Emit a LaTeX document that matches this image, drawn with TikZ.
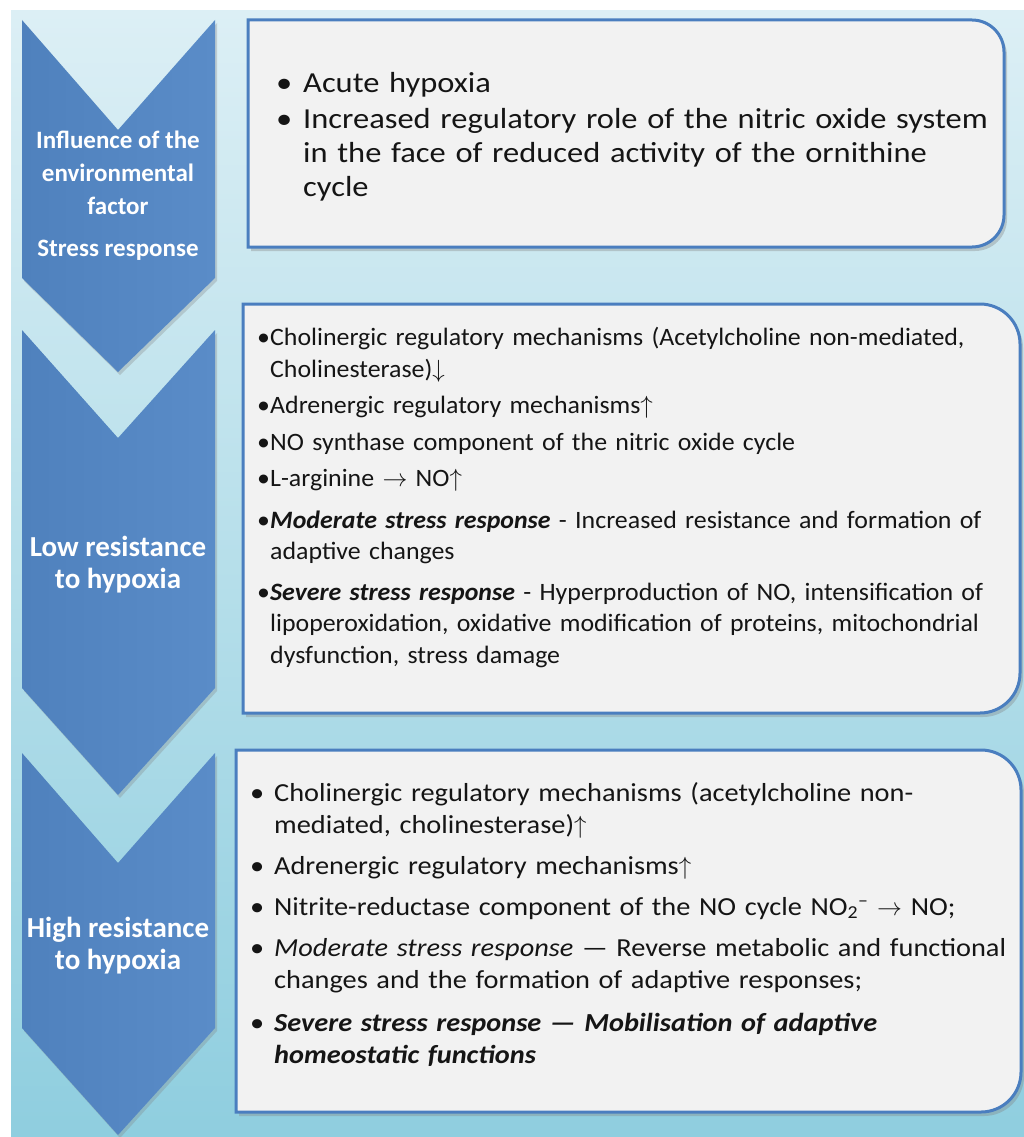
\documentclass[tikz,border=0pt]{standalone}
\usepackage{fontspec}
\setmainfont{Carlito}
\newfontfamily\fonta[FakeStretch=1.12]{Carlito}
\newfontfamily\fontb[FakeStretch=1.035]{Carlito}
\newfontfamily\fontc[FakeStretch=1.09]{Carlito}
\usetikzlibrary{shadows}
\definecolor{bgtop}{HTML}{DCEFF5}
\definecolor{bgbot}{HTML}{8FCEDF}
\definecolor{chev}{HTML}{4F81BD}
\definecolor{chevhi}{HTML}{5A8CC8}
\definecolor{boxline}{HTML}{4A7EBF}
\definecolor{boxfill}{HTML}{F2F2F2}
\definecolor{ink}{HTML}{151515}
\newcommand{\bul}[2]{\par\noindent\hangindent=#1\hangafter=1\makebox[#1][l]{•}#2}
\tikzset{
  chevron/.style={left color=chev, right color=chevhi, drop shadow={shadow xshift=2pt, shadow yshift=-3pt, opacity=0.3}},
  panel/.style={draw=boxline, line width=3pt, fill=boxfill, drop shadow={shadow xshift=3pt, shadow yshift=-4pt, opacity=0.35}},
  chevtext/.style={text=white, align=center, inner sep=0pt},
  bodytext/.style={anchor=north west, inner sep=0pt, text width=780pt, text=ink}
}
\begin{document}
\begin{tikzpicture}[x=1pt,y=-1pt]
\useasboundingbox (0,0) rectangle (1024,1137);
\fill[white] (0,0) rectangle (1024,1137);
\shade[top color=bgtop, bottom color=bgbot] (11,11) rectangle (1024,1137);

% chevrons
\path[chevron] (22,20) -- (118,130) -- (215,20) -- (215,278) -- (118,372) -- (22,278) -- cycle;
\path[chevron] (22,330) -- (118,438) -- (215,330) -- (215,688) -- (118,795) -- (22,688) -- cycle;
\path[chevron] (22,753) -- (118,863) -- (215,753) -- (215,1028) -- (118,1135) -- (22,1028) -- cycle;

\node[chevtext, font=\bfseries\fontsize{25}{33}\selectfont] (c1) at (118,196) {Influence of the\\environmental\\factor\\[9pt]Stress response};
\node[chevtext, font=\bfseries\fontsize{29}{32}\selectfont] (c2) at (118,565) {Low resistance\\to hypoxia};
\node[chevtext, font=\bfseries\fontsize{29}{32}\selectfont] (c3) at (118,946) {High resistance\\to hypoxia};

% panels
\draw[panel] (248,20) -- (972,20) arc[start angle=-90, end angle=0, radius=32] -- (1004,215) arc[start angle=0, end angle=90, radius=32] -- (248,247) -- cycle;
\draw[panel] (243,304) -- (980,304) arc[start angle=-90, end angle=0, radius=40] -- (1020,673) arc[start angle=0, end angle=90, radius=40] -- (243,713) -- cycle;
\draw[panel] (236,750) -- (981,750) arc[start angle=-90, end angle=0, radius=40] -- (1021,1072) arc[start angle=0, end angle=90, radius=40] -- (236,1112) -- cycle;

\node[bodytext, font=\fonta\fontsize{29}{34}\selectfont] (t1) at (276,56) {%
\setlength{\parskip}{2pt}%
\bul{27pt}{Acute hypoxia}
\bul{27pt}{Increased regulatory role of the nitric oxide system\newline in the face of reduced activity of the ornithine\newline cycle}\par};

\node[bodytext, font=\fontb\fontsize{25}{31.5}\selectfont] (t2) at (257,309) {%
\setlength{\parskip}{5pt}%
\bul{13pt}{Cholinergic regulatory mechanisms (Acetylcholine non-mediated,\newline Cholinesterase)$\downarrow$}
\bul{13pt}{Adrenergic regulatory mechanisms$\uparrow$}
\bul{13pt}{NO synthase component of the nitric oxide cycle}
\bul{13pt}{L-arginine $\rightarrow$ NO$\uparrow$}
\par\vspace{5pt}%
\bul{13pt}{\textbf{\textit{Moderate stress response}} - Increased resistance and formation of\newline adaptive changes}
\par\vspace{4pt}%
\bul{13pt}{\textbf{\textit{Severe stress response}} - Hyperproduction of NO, intensification of\newline lipoperoxidation, oxidative modification of proteins, mitochondrial\newline dysfunction, stress damage}\par};

\node[bodytext, font=\fontc\fontsize{26}{32}\selectfont] (t3) at (250,760) {%
\setlength{\parskip}{9pt}%
\bul{24pt}{Cholinergic regulatory mechanisms (acetylcholine non-\newline mediated, cholinesterase)$\uparrow$}
\bul{24pt}{Adrenergic regulatory mechanisms$\uparrow$}
\bul{24pt}{Nitrite-reductase component of the NO cycle NO\textsubscript{2}\textsuperscript{–} $\rightarrow$ NO;}
\bul{24pt}{\textit{Moderate stress response} — Reverse metabolic and functional\newline changes and the formation of adaptive responses;}
\par\vspace{2pt}%
\bul{24pt}{\textbf{\textit{Severe stress response — Mobilisation of adaptive\newline homeostatic functions}}}\par};
\end{tikzpicture}
\end{document}
